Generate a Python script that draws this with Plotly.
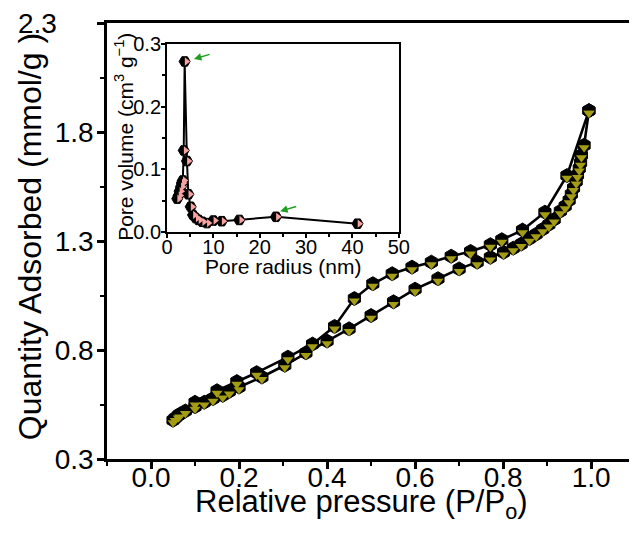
import plotly.graph_objects as go

# ---------------- data ----------------
# N2 isotherm: adsorption branch
ads_p = [0.050, 0.055, 0.062, 0.078, 0.100, 0.121, 0.141, 0.163, 0.178, 0.200,
         0.252, 0.304, 0.352, 0.400, 0.450, 0.500, 0.551, 0.600, 0.652, 0.700,
         0.741, 0.771, 0.801, 0.823, 0.841, 0.860, 0.875, 0.890, 0.904, 0.916,
         0.930, 0.941, 0.950, 0.955, 0.960, 0.966, 0.969, 0.973, 0.976, 0.978,
         0.984, 0.995]
ads_q = [0.478, 0.488, 0.500, 0.520, 0.540, 0.560, 0.577, 0.592, 0.610, 0.630,
         0.676, 0.730, 0.787, 0.841, 0.897, 0.958, 1.021, 1.079, 1.127, 1.172,
         1.203, 1.225, 1.248, 1.267, 1.286, 1.311, 1.331, 1.354, 1.376, 1.399,
         1.437, 1.460, 1.487, 1.515, 1.543, 1.573, 1.603, 1.633, 1.659, 1.694,
         1.739, 1.898]
# desorption branch
des_p = [0.995, 0.945, 0.895, 0.844, 0.797, 0.771, 0.726, 0.682, 0.637, 0.593,
         0.548, 0.504, 0.462, 0.417, 0.367, 0.311, 0.240, 0.195, 0.150, 0.100,
         0.065]
des_q = [1.898, 1.600, 1.432, 1.350, 1.306, 1.283, 1.252, 1.230, 1.203, 1.180,
         1.150, 1.104, 1.036, 0.908, 0.827, 0.767, 0.696, 0.655, 0.613, 0.560,
         0.505]

# inset: pore size distribution
pore_r = [2.2, 2.5, 2.7, 3.0, 3.2, 3.4, 3.6, 3.8, 4.3, 4.6, 5.1, 5.6, 6.2, 6.8,
          7.6, 8.6, 10.0, 11.8, 15.6, 23.5, 41.1]
pore_v = [0.053, 0.058, 0.065, 0.072, 0.078, 0.082, 0.130, 0.272, 0.113, 0.060,
          0.040, 0.027, 0.022, 0.019, 0.016, 0.014, 0.018, 0.017, 0.019, 0.024,
          0.013]

# green arrows in the inset: (head_x, head_y, tail_x, tail_y)
arrow_heads_x = [5.8, 24.4]
arrow_heads_y = [0.276, 0.033]
arrow_tails_x = [9.5, 28.2]
arrow_tails_y = [0.284, 0.041]

main_xticks = [0.0, 0.2, 0.4, 0.6, 0.8, 1.0]
main_yticks = [0.3, 0.8, 1.3, 1.8, 2.3]
# the top label sits further left in the reference (padded with no-break spaces)
main_yticktext = ["0.3", "0.8", "1.3", "1.8", "2.3\u00a0\u00a0\u00a0\u00a0\u2009"]
inset_xticks = [0, 10, 20, 30, 40, 50]
inset_yticks = [0.0, 0.1, 0.2, 0.3]

main_xtitle = "Relative pressure (P/P<sub>o</sub>)"
main_ytitle = "Quantity Adsorbed (mmol/g )"
inset_xtitle = "Pore radius (nm)"
inset_ytitle = "Pore volume (cm<sup>3</sup> g<sup>\u22121</sup>)"

# ---------------- styling ----------------
FONT = "Liberation Sans, Arial, Helvetica, sans-serif"
OLIVE = "#a39c14"
PINK = "#f4a3a0"
GREEN = "#1f9e1f"

fig = go.Figure()

# main isotherm: black hexagons (top half) + olive lower half overlay
for xs, ys in [(ads_p, ads_q), (des_p, des_q)]:
    fig.add_trace(go.Scatter(
        x=xs, y=ys, mode="lines+markers", xaxis="x", yaxis="y",
        line=dict(color="black", width=2.6),
        marker=dict(symbol="hexagon", size=14, color="black",
                    line=dict(color="black", width=1)),
        showlegend=False, hoverinfo="x+y"))
for xs, ys in [(ads_p, ads_q), (des_p, des_q)]:
    fig.add_trace(go.Scatter(
        x=xs, y=ys, mode="markers", xaxis="x", yaxis="y3",
        marker=dict(symbol="triangle-down", size=9.6, color=OLIVE,
                    line=dict(width=0)),
        showlegend=False, hoverinfo="skip"))

# inset: black hexagons (left half) + pink right half overlay
fig.add_trace(go.Scatter(
    x=pore_r, y=pore_v, mode="lines+markers", xaxis="x2", yaxis="y2",
    line=dict(color="black", width=2),
    marker=dict(symbol="hexagon2", size=11, color="black",
                line=dict(color="black", width=1)),
    showlegend=False, hoverinfo="x+y"))
fig.add_trace(go.Scatter(
    x=pore_r, y=pore_v, mode="markers", xaxis="x4", yaxis="y2",
    marker=dict(symbol="triangle-right", size=7.2, color=PINK,
                line=dict(width=0)),
    showlegend=False, hoverinfo="skip"))

# plot area geometry (page has an 8 px body margin)
W, H = 632, 534
ML, MR, MT, MB = 99, 0, 10, 83
plot_w = W - ML - MR
plot_h = H - MT - MB
main_yrange = [0.3, 2.3]
main_xrange = [-0.1, 1.086]
y_shift = 2.5 * (main_yrange[1] - main_yrange[0]) / plot_h  # px down

inset_dom_x = [0.115, 0.559]
inset_dom_y = [0.521, 0.952]
inset_xrange = [0, 50]
inset_w_px = (inset_dom_x[1] - inset_dom_x[0]) * plot_w
x_shift = 2.0 * (inset_xrange[1] - inset_xrange[0]) / inset_w_px  # px right

axis_common = dict(showline=True, linecolor="black", ticks="outside",
                   tickcolor="black", showgrid=False, zeroline=False)

fig.update_layout(
    width=W, height=H,
    margin=dict(l=ML, r=MR, t=MT, b=MB),
    paper_bgcolor="white", plot_bgcolor="white",
    font=dict(family=FONT, color="black"),
    xaxis=dict(**axis_common, domain=[0, 1], range=main_xrange,
               linewidth=2.5, tickwidth=2.5, ticklen=7, mirror=True,
               tickvals=main_xticks, tickformat=".1f",
               tickfont=dict(size=28), ticklabelstandoff=-15,
               minor=dict(dtick=0.1, tick0=0, ticks="outside", ticklen=4,
                          tickwidth=2, tickcolor="black")),
    yaxis=dict(**axis_common, domain=[0, 1], range=main_yrange,
               linewidth=2.5, tickwidth=2.5, ticklen=7,
               tickvals=main_yticks, ticktext=main_yticktext,
               tickfont=dict(size=28), ticklabelstandoff=-2,
               ticklabeloverflow="allow",
               minor=dict(dtick=0.25, tick0=0.3, ticks="outside", ticklen=4,
                          tickwidth=2, tickcolor="black")),
    yaxis3=dict(overlaying="y", visible=False,
                range=[main_yrange[0] + y_shift, main_yrange[1] + y_shift]),
    xaxis2=dict(**axis_common, domain=inset_dom_x, anchor="y2",
                range=inset_xrange, linewidth=2, tickwidth=2, ticklen=4,
                mirror=True, tickvals=inset_xticks,
                tickfont=dict(size=20), ticklabelstandoff=-8,
                minor=dict(dtick=5, ticks="outside", ticklen=3,
                           tickwidth=1.5, tickcolor="black")),
    yaxis2=dict(**axis_common, domain=inset_dom_y, anchor="x2",
                range=[0, 0.3], linewidth=2, tickwidth=2, ticklen=4,
                mirror=True, tickvals=inset_yticks, tickformat=".1f",
                tickfont=dict(size=20), ticklabelstandoff=-4,
                minor=dict(dtick=0.05, ticks="outside", ticklen=3,
                           tickwidth=1.5, tickcolor="black")),
    xaxis4=dict(overlaying="x2", visible=False, anchor="y2",
                range=[inset_xrange[0] - x_shift, inset_xrange[1] - x_shift]),
)

# axis titles placed as annotations (paper coords)
def px_to_paper(fx, fy):
    return (fx - ML) / plot_w, (H - MB - fy) / plot_h

titles = [
    (main_xtitle, 358.5, 497, 31, 0),
    (main_ytitle, 20, 226, 32, -90),
    (inset_xtitle, 279, 256, 21, 0),
    (inset_ytitle, 117, 125.5, 21, -90),
]
for text, fx, fy, size, ang in titles:
    px_, py_ = px_to_paper(fx, fy)
    fig.add_annotation(x=px_, y=py_, xref="paper", yref="paper", text=text,
                       showarrow=False, textangle=ang, xanchor="center",
                       yanchor="middle", font=dict(size=size, family=FONT,
                                                   color="black"))

for hx, hy, tx, ty in zip(arrow_heads_x, arrow_heads_y, arrow_tails_x, arrow_tails_y):
    fig.add_annotation(x=hx, y=hy, ax=tx, ay=ty, xref="x2", yref="y2",
                       axref="x2", ayref="y2", text="", showarrow=True,
                       arrowhead=2, arrowsize=1, arrowwidth=1.5,
                       arrowcolor=GREEN, standoff=0)

fig.write_html("out.html")
